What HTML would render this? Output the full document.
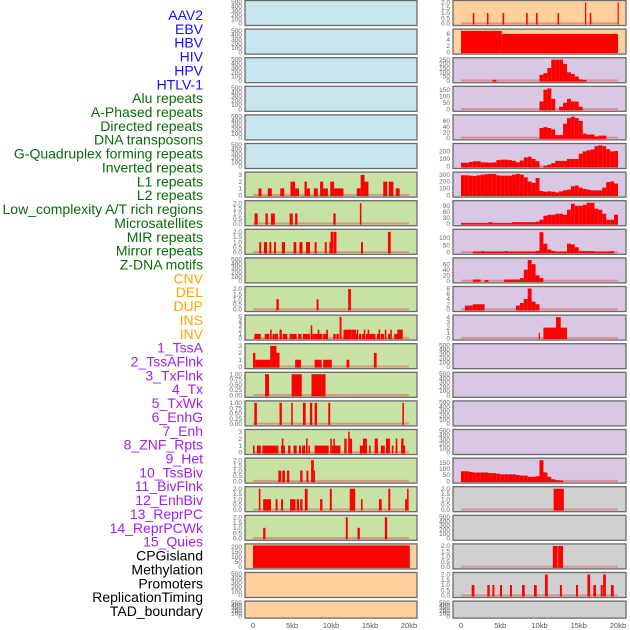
<!DOCTYPE html>
<html><head><meta charset="utf-8"><style>
html,body{margin:0;padding:0;background:#fff;width:630px;height:630px;overflow:hidden}
svg{display:block}
.lab{font-family:"Liberation Sans",sans-serif;font-size:14px}
.tk{font-family:"Liberation Sans",sans-serif;font-size:6.5px;fill:#666}
.ax{font-family:"Liberation Sans",sans-serif;font-size:7.5px;fill:#555}
</style></head><body>
<svg id="chart" width="630" height="630" viewBox="0 0 630 630"></svg>
<script>
// ---- data ----
const trackLabels = ["AAV2","EBV","HBV","HIV","HPV","HTLV-1","Alu repeats","A-Phased repeats","Directed repeats","DNA transposons","G-Quadruplex forming repeats","Inverted repeats","L1 repeats","L2 repeats","Low_complexity A/T rich regions","Microsatellites","MIR repeats","Mirror repeats","Z-DNA motifs","CNV","DEL","DUP","INS","INV","1_TssA","2_TssAFlnk","3_TxFlnk","4_Tx","5_TxWk","6_EnhG","7_Enh","8_ZNF_Rpts","9_Het","10_TssBiv","11_BivFlnk","12_EnhBiv","13_ReprPC","14_ReprPCWk","15_Quies","CPGisland","Methylation","Promoters","ReplicationTiming","TAD_boundary"];
const labelGroups = [6,13,5,15,5];
const xTickLabels = ["0","5kb","10kb","15kb","20kb"];
const xTickValues = [0,5,10,15,20];

// bars: [startKb, widthKb, value]
const leftL1 = [[0.7,0.4,1],[1.9,0.5,1],[3.5,0.5,1],[4.8,0.6,2],[5.4,0.5,1],[6.6,0.3,2],[6.9,0.4,1],[7.8,0.5,1],[8.6,0.4,2],[9.0,0.6,1],[9.9,0.5,2],[10.4,1.2,1],[13.3,0.5,1],[13.8,0.5,3],[14.3,0.5,2],[16.7,0.5,2],[17.4,0.6,2],[18.3,0.5,1]];
const leftL2 = [[0.2,0.4,1],[1.6,0.3,1],[2.3,0.5,1],[4.7,0.4,1],[5.4,0.3,1],[10.3,0.3,1],[13.7,0.2,2]];
const leftLowComplex = [[0.8,0.25,1],[1.4,0.4,1],[2.1,0.25,1],[2.7,0.25,1],[3.7,0.4,1],[5.2,0.35,1],[5.95,0.4,1],[6.8,0.5,1],[7.9,0.25,1],[9.2,0.25,1],[9.8,0.2,1],[9.95,0.3,2],[10.3,0.4,2],[13.85,0.25,1],[17.3,0.35,2]];
const leftMicro = [[3.0,0.3,1],[8.15,0.25,1],[12.2,0.35,2]];
const leftMIR1 = [[0.2,0.8,1],[1.5,0.6,1],[2.5,0.3,1],[2.8,0.4,1],[3.8,0.6,1],[4.7,0.9,1],[5.8,0.4,1],[6.4,0.9,1],[7.6,0.3,1],[7.9,1.0,1],[9.0,0.6,1],[10.3,0.3,1],[10.7,0.3,1],[13.0,0.4,1],[13.6,0.3,1],[14.0,0.3,1],[14.5,0.3,1],[14.9,0.8,1],[15.9,0.4,1],[16.4,0.4,1],[17.3,0.3,1],[18.1,0.7,1]];
const leftMIR2 = [[2.2,0.2,2],[3.4,0.3,2],[7.4,0.2,3],[8.3,0.2,2],[9.4,0.2,2],[11.1,0.25,5],[11.6,1.0,2],[12.6,0.6,2],[13.3,0.2,2],[14.2,0.2,2],[14.7,0.2,2],[16.1,0.2,2],[16.9,0.2,2],[17.6,0.2,2],[18.5,0.7,2]];
const leftMirror = [[0,0.3,2],[0.3,1.9,1],[2.2,0.8,3],[3.0,0.4,2],[5.4,0.75,1],[7.9,0.9,1],[9.0,1.1,1],[12.0,0.35,1],[15.5,0.35,2]];
const leftCNV = [[1.55,0.5,1],[4.95,1.3,1],[7.5,1.3,1],[8.8,0.5,1]];
const leftDEL = [[0.17,0.33,1],[3.4,0.3,1],[4.9,0.2,1],[6.4,0.35,1],[7.3,0.3,1],[7.9,0.3,1],[9.65,0.25,1],[19.15,0.2,1]];
const leftDUP = [[0,0.2,1],[0.5,0.5,1],[1.2,2.05,1],[3.6,0.5,1],[4.5,0.3,1],[5.2,0.4,1],[5.9,0.25,1],[6.3,0.4,1],[7.1,0.2,1],[7.9,1.8,1],[10.1,1.1,1],[13.7,0.9,1],[14.9,0.2,1],[15.6,0.4,1],[16.4,0.5,1],[17.8,0.2,1],[18.3,0.2,1],[19.0,0.5,1],[3.7,0.2,2],[6.8,0.2,2],[9.9,0.2,2],[10.3,0.2,2],[11.7,0.3,2],[12.4,0.3,2],[14.1,0.5,2],[15.6,0.4,2],[17.05,0.5,2],[18.3,0.2,2],[19.0,0.3,2],[12.2,0.2,3]];
const leftINS = [[3.25,0.35,1],[3.75,0.35,1],[4.35,0.3,1],[6.05,0.3,1],[6.85,0.25,1],[7.45,0.35,2],[7.8,0.15,1]];
const leftINV = [[0.75,0.2,2],[1.3,1.0,1],[2.9,0.25,1],[3.6,0.25,1],[4.75,0.7,1],[5.6,0.3,1],[6.05,0.3,1],[6.65,0.35,2],[8.6,0.3,1],[9.85,0.25,2],[12.4,0.7,2],[13.85,0.2,1],[16.15,0.35,1],[17.35,0.25,2],[19.5,0.25,1],[19.75,0.2,2]];
const leftTssA = [[1.3,0.3,1],[11.9,0.25,2],[13.4,0.3,1],[16.9,0.3,2]];
const leftCPG = [[0,20.1,215]];

const rightAAV2 = [[1.5,0.2,1],[3.3,0.2,1],[5.3,0.2,1],[8.3,0.2,1],[9.55,0.2,1],[12.3,0.2,1],[15.8,0.15,2],[16.4,0.2,1],[19.95,0.15,2]];
const rightEBV = [[0,5.2,7],[5.2,14.8,6]];
// 0.5kb bins
const rightHIV = [0,0,0,0,0,0,0,0,10,0,0,0,0,0,0,0,0,0,0,0,70,90,150,250,250,250,200,100,80,50,15,10,0,0,0,0,0,0,0,0];
const rightHPV = [0,0,0,0,0,0,0,0,0,0,0,0,0,0,0,0,0,0,0,0,60,150,160,80,0,20,50,80,60,60,20,0,0,0,0,0,0,0,0,0];
const rightHTLV = [0,0,0,0,0,0,0,0,0,0,0,0,0,0,0,0,0,0,0,0,35,38,35,30,10,10,50,70,75,70,60,15,12,12,5,8,8,0,0,0];
const rightAlu = [50,50,60,70,70,55,55,50,55,85,90,90,85,75,55,80,120,130,100,70,0,10,25,45,75,75,75,100,100,100,170,200,215,225,270,280,270,230,200,205];
const rightAPhased = [290,290,285,280,290,300,305,310,310,290,285,285,285,300,310,300,260,200,180,250,60,50,55,50,40,55,70,80,130,140,110,90,80,70,70,70,110,190,200,170];
const rightDirected = [3,3,3,3,3,3,3,8,3,3,3,3,3,8,8,8,8,8,8,10,20,40,45,45,50,50,45,70,100,90,90,95,105,105,75,70,50,20,20,45];
const rightDNA = [0,0,0,5,5,8,5,5,5,5,5,8,5,5,5,5,5,5,5,10,140,60,20,10,5,5,5,60,55,35,10,8,8,8,5,5,5,5,8,0];
const rightGQuad = [0,0,0,5,5,0,3,0,0,0,0,5,5,5,5,10,40,75,60,20,10,0,0,0,0,0,0,0,0,0,0,0,0,0,0,0,0,0,0,0];
const rightInverted = [0,1.5,1.5,2,2,2,0,0,0,0,0,0,0,0,1.5,2.5,4,8,3,2,0,0,0,0,0,0,0,0,0,0,0,0,0,0,0,0,0,0,0,0];
const rightL1 = [[9.9,0.15,1],[10.5,3.0,2],[12.1,0.6,4]];
const rightMicro = [80,80,75,70,70,70,70,65,65,60,55,55,55,55,50,45,45,35,35,40,170,70,35,15,8,5,0,0,0,0,0,0,0,0,0,0,0,0,0,0];
const rightMirror = [[11.8,1.3,2]];
const rightCNV = [[11.7,0.55,2],[12.3,0.1,2],[12.45,0.55,2]];
const rightDEL = [[1.36,0.35,1],[3.35,0.3,1],[4.0,0.25,1],[4.97,0.25,1],[6.24,0.25,1],[7.77,0.35,1],[9.3,0.35,1],[10.7,0.35,2],[12.6,0.25,1],[14.65,0.25,1],[16.1,0.35,2],[16.85,0.35,1],[17.8,0.25,1],[18.1,0.35,2],[19.1,0.35,1]];

// ---- layout ----
const svg = document.getElementById('chart');
const NS = 'http://www.w3.org/2000/svg';
function mk(tag, attrs){const e=document.createElementNS(NS,tag);for(const k in attrs)e.setAttribute(k,attrs[k]);return e;}
const COLS = {L:{x:245,w:172,x0:253,s:7.8}, R:{x:453,w:173,x0:461,s:7.85}};
const FILL = {blue:'#c8e4ec',orange:'#fed09e',purple:'#d8c8e3',green:'#c8e1a5',grey:'#d0d0d0'};
function rowTop(i){return 0.5+i*28.6;}
function rowH(i){return i===21?17:25;}
function xScale(col,kb){return COLS[col].x0+kb*COLS[col].s;}
function yScale(top,h,ymax,v){const b=top+h-2,t=top+1.5;return b-(v/ymax)*(b-t);}
function fmt(v,dec){return v.toFixed(dec);}

const EMPTY_TICKS=[0,100,200,300,400,500];
const panels = [];
for(let i=0;i<6;i++) panels.push({col:'L',row:i,fill:'blue'});
panels.push({col:'L',row:6,fill:'green',ticks:[0,1,2,3],ymax:3.2,bars:leftL1,name:'l1-repeats'});
panels.push({col:'L',row:7,fill:'green',ticks:[0,0.5,1,1.5,2],dec:1,ymax:2.1,bars:leftL2});
panels.push({col:'L',row:8,fill:'green',ticks:[0,0.5,1,1.5,2],dec:1,ymax:2.1,bars:leftLowComplex});
panels.push({col:'L',row:9,fill:'green'});
panels.push({col:'L',row:10,fill:'green',ticks:[0,0.5,1,1.5,2],dec:1,ymax:2.1,bars:leftMicro});
panels.push({col:'L',row:11,fill:'green',ticks:[0,1,2,3,4,5],ymax:5.1,bars:leftMIR1.concat(leftMIR2)});
panels.push({col:'L',row:12,fill:'green',ticks:[0,1,2,3],ymax:3.1,bars:leftMirror});
panels.push({col:'L',row:13,fill:'green',ticks:[0,0.25,0.5,0.75,1],dec:2,ymax:1.02,bars:leftCNV});
panels.push({col:'L',row:14,fill:'green',ticks:[0,0.25,0.5,0.75,1],dec:2,ymax:1.02,bars:leftDEL});
panels.push({col:'L',row:15,fill:'green',ticks:[0,1,2,3],ymax:3.1,bars:leftDUP});
panels.push({col:'L',row:16,fill:'green',ticks:[0,0.5,1,1.5,2],dec:1,ymax:2.05,bars:leftINS});
panels.push({col:'L',row:17,fill:'green',ticks:[0,0.5,1,1.5,2],dec:1,ymax:2.05,bars:leftINV});
panels.push({col:'L',row:18,fill:'green',ticks:[0,0.5,1,1.5,2],dec:1,ymax:2.05,bars:leftTssA});
panels.push({col:'L',row:19,fill:'orange',ticks:[0,50,100,150,200],ymax:215,bars:leftCPG,nobase:true});
panels.push({col:'L',row:20,fill:'orange'});
panels.push({col:'L',row:21,fill:'orange'});

panels.push({col:'R',row:0,fill:'orange',ticks:[0,0.5,1,1.5,2],dec:1,ymax:2.05,bars:rightAAV2});
panels.push({col:'R',row:1,fill:'orange',ticks:[0,2,4,6],ymax:7.1,bars:rightEBV,nobase:true});
panels.push({col:'R',row:2,fill:'purple',ticks:[0,50,100,150,200,250],ymax:255,bins:rightHIV});
panels.push({col:'R',row:3,fill:'purple',ticks:[0,50,100,150],ymax:165,bins:rightHPV});
panels.push({col:'R',row:4,fill:'purple',ticks:[0,20,40,60],ymax:76,bins:rightHTLV});
panels.push({col:'R',row:5,fill:'purple',ticks:[0,100,200],ymax:285,bins:rightAlu});
panels.push({col:'R',row:6,fill:'purple',ticks:[0,100,200,300],ymax:315,bins:rightAPhased});
panels.push({col:'R',row:7,fill:'purple',ticks:[0,30,60,90],ymax:108,bins:rightDirected});
panels.push({col:'R',row:8,fill:'purple',ticks:[0,50,100],ymax:150,bins:rightDNA});
panels.push({col:'R',row:9,fill:'purple',ticks:[0,20,40,60],ymax:77,bins:rightGQuad});
panels.push({col:'R',row:10,fill:'purple',ticks:[0,2,4,6,8],ymax:8.2,bins:rightInverted});
panels.push({col:'R',row:11,fill:'purple',ticks:[0,1,2,3,4],ymax:4.1,bars:rightL1});
for(let i=12;i<16;i++) panels.push({col:'R',row:i,fill:'purple'});
panels.push({col:'R',row:16,fill:'purple',ticks:[0,50,100,150],ymax:175,bins:rightMicro});
panels.push({col:'R',row:17,fill:'grey',ticks:[0,0.5,1,1.5,2],dec:1,ymax:2.05,bars:rightMirror});
panels.push({col:'R',row:18,fill:'grey'});
panels.push({col:'R',row:19,fill:'grey',ticks:[0,0.5,1,1.5,2],dec:1,ymax:2.05,bars:rightCNV});
panels.push({col:'R',row:20,fill:'grey',ticks:[0,0.5,1,1.5,2],dec:1,ymax:2.05,bars:rightDEL});
panels.push({col:'R',row:21,fill:'grey'});

panels.forEach(p=>{
  const C=COLS[p.col], top=rowTop(p.row), h=rowH(p.row);
  const g=mk('g',{});
  
  
  svg.appendChild(g);
  const bg=mk('rect',{x:C.x,y:top,width:C.w,height:h,fill:FILL[p.fill],stroke:'#6a6a6a','stroke-width':1.3});
  
  
  g.appendChild(bg);
  const empty=!p.ticks;
  const ticks=empty?EMPTY_TICKS:p.ticks, ymax=empty?500:p.ymax, dec=p.dec||0;
  ticks.forEach(t=>{
    const tx=mk('text',{x:C.x-3,y:yScale(top,h,ymax,t)+2.2,'text-anchor':'end',class:'tk'});
    tx.textContent=fmt(t,dec);
    
    
    g.appendChild(tx);
  });
  if(empty) return;
  const y0=yScale(top,h,ymax,0);
  if(!p.nobase){
    const bl=mk('rect',{x:xScale(p.col,0),y:y0-1.2,width:xScale(p.col,20)-xScale(p.col,0),height:2,fill:'#e06060',opacity:0.55});
    
    
    g.appendChild(bl);
  }
  const list=p.bars?p.bars:p.bins.map((v,i)=>[i*0.5,0.5,v]);
  list.forEach(b=>{
    if(b[2]<=0) return;
    const x1=xScale(p.col,b[0]), x2=xScale(p.col,b[0]+b[1]), yv=yScale(top,h,ymax,b[2]);
    const r=mk('rect',{x:x1,y:yv,width:Math.max(1.2,x2-x1),height:y0-yv+1,fill:'#ff0000'});
    
    
    g.appendChild(r);
  });
});

// x axes
['L','R'].forEach(col=>{
  xTickValues.forEach((v,i)=>{
    const t=mk('text',{x:xScale(col,v),y:628,'text-anchor':'middle',class:'ax'});
    t.textContent=xTickLabels[i];
    
    
    svg.appendChild(t);
  });
});

// track labels
const groupColors=['#1010ff','#0a6a0a','#ffa500','#a020f0','#000000'];
let gi=0,cnt=0;
trackLabels.forEach((l,i)=>{
  while(cnt>=labelGroups[gi]){gi++;cnt=0;}
  cnt++;
  const t=mk('text',{x:203,y:20+i*13.86,'text-anchor':'end',class:'lab',fill:groupColors[gi]});
  t.textContent=l;
  
  
  svg.appendChild(t);
});
</script>
</body></html>
